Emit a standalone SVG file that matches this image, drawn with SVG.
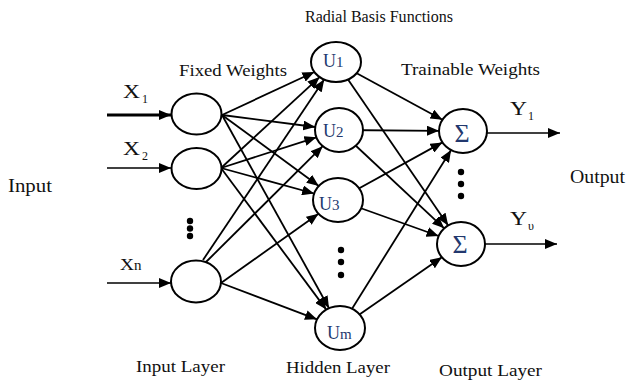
<svg xmlns="http://www.w3.org/2000/svg" width="627" height="383" viewBox="0 0 627 383">
  <style>
    .node { fill: #ffffff; stroke: #000000; stroke-width: 2; }
    .edge { stroke: #000000; stroke-width: 1.8; fill: none; marker-end: url(#arrow); }
    .lbl { font-family: "Liberation Serif", "Times New Roman", serif; fill: #111111; }
    .sym { font-family: "Liberation Serif", "Times New Roman", serif; fill: #22386e; }
    .dot { fill: #000000; }
  </style>
  <defs>
    <marker id="arrow" markerUnits="userSpaceOnUse" markerWidth="12" markerHeight="10" refX="12" refY="5" orient="auto">
      <path d="M0,0 L12,5 L0,10 z" fill="#000000"/>
    </marker>
  </defs>

  <rect width="627" height="383" fill="#ffffff"/>

  <!-- section titles -->
  <g id="titles">
    <text class="lbl" x="305" y="22" font-size="16" textLength="148" lengthAdjust="spacingAndGlyphs">Radial Basis Functions</text>
    <text class="lbl" x="179" y="76" font-size="17" textLength="108" lengthAdjust="spacingAndGlyphs">Fixed Weights</text>
    <text class="lbl" x="401" y="75" font-size="17" textLength="139" lengthAdjust="spacingAndGlyphs">Trainable Weights</text>
    <text class="lbl" x="8" y="192" font-size="18" textLength="44" lengthAdjust="spacingAndGlyphs">Input</text>
    <text class="lbl" x="570" y="183" font-size="18" textLength="55" lengthAdjust="spacingAndGlyphs">Output</text>
    <text class="lbl" x="136" y="372" font-size="17" textLength="89" lengthAdjust="spacingAndGlyphs">Input Layer</text>
    <text class="lbl" x="286" y="373" font-size="17" textLength="104" lengthAdjust="spacingAndGlyphs">Hidden Layer</text>
    <text class="lbl" x="439" y="376" font-size="17" textLength="103" lengthAdjust="spacingAndGlyphs">Output Layer</text>
  </g>

  <!-- all connectors -->
  <g id="connectors">
    <!-- inputs into the input layer -->
    <line x1="107" y1="115" x2="171" y2="115" stroke="#000" stroke-width="2.8" marker-end="url(#arrow)"/>
    <line x1="107" y1="168" x2="171" y2="168" stroke="#000" stroke-width="1.5" marker-end="url(#arrow)"/>
    <line x1="107" y1="283" x2="171" y2="283" stroke="#000" stroke-width="1.5" marker-end="url(#arrow)"/>

    <!-- input layer to hidden layer (fixed weights) -->
    <line class="edge" x1="222" y1="115" x2="314.4" y2="72"/>
    <line class="edge" x1="222" y1="115" x2="315.2" y2="127"/>
    <line class="edge" x1="222" y1="115" x2="318.8" y2="185.9"/>
    <line class="edge" x1="222" y1="115" x2="329" y2="308.2"/>

    <line class="edge" x1="221" y1="168" x2="319.6" y2="77.1"/>
    <line class="edge" x1="221" y1="168" x2="316.4" y2="137.3"/>
    <line class="edge" x1="221" y1="168" x2="314.1" y2="193.5"/>
    <line class="edge" x1="221" y1="168" x2="326.3" y2="309.6"/>

    <line class="edge" x1="203" y1="260" x2="324.2" y2="79.6"/>
    <line class="edge" x1="206" y1="262" x2="322.7" y2="146.2"/>
    <line class="edge" x1="221" y1="283" x2="318.5" y2="213.8"/>
    <line class="edge" x1="221" y1="283" x2="317" y2="319.3"/>

    <!-- hidden layer to output layer (trainable weights) -->
    <line class="edge" x1="336" y1="62" x2="442.4" y2="119.8"/>
    <line class="edge" x1="336" y1="62" x2="448.2" y2="225.4"/>
    <line class="edge" x1="339" y1="130" x2="439" y2="130.8"/>
    <line class="edge" x1="339" y1="130" x2="444.2" y2="228.3"/>
    <line class="edge" x1="338" y1="200" x2="442.4" y2="142.4"/>
    <line class="edge" x1="338" y1="200" x2="438.6" y2="236"/>
    <line class="edge" x1="340" y1="328" x2="451.1" y2="150.1"/>
    <line class="edge" x1="340" y1="328" x2="441.9" y2="257.3"/>

    <!-- outputs -->
    <line x1="487" y1="133" x2="560" y2="133" stroke="#000" stroke-width="1.7" marker-end="url(#arrow)"/>
    <line x1="485" y1="244" x2="557" y2="244" stroke="#000" stroke-width="1.7" marker-end="url(#arrow)"/>
  </g>

  <!-- input layer -->
  <g id="input-1">
    <ellipse class="node" cx="196.5" cy="114" rx="25" ry="20.5"/>
  </g>
  <g id="input-2">
    <ellipse class="node" cx="196.5" cy="168.5" rx="25" ry="20.5"/>
  </g>
  <g id="input-dots">
    <circle class="dot" cx="190" cy="221" r="3.2"/>
    <circle class="dot" cx="190" cy="228.5" r="3.2"/>
    <circle class="dot" cx="190" cy="236" r="3.2"/>
  </g>
  <g id="input-n">
    <ellipse class="node" cx="196" cy="281.5" rx="25" ry="21"/>
  </g>

  <!-- input labels -->
  <g id="input-labels">
    <text class="lbl" x="123" y="98" font-size="18" textLength="17" lengthAdjust="spacingAndGlyphs">X</text>
    <text class="lbl" x="142" y="103" font-size="12">1</text>
    <text class="lbl" x="123" y="155" font-size="18" textLength="17" lengthAdjust="spacingAndGlyphs">X</text>
    <text class="lbl" x="142" y="160" font-size="12">2</text>
    <text class="lbl" x="120" y="270" font-size="17" textLength="14" lengthAdjust="spacingAndGlyphs">X</text>
    <text class="lbl" x="134" y="270" font-size="15">n</text>
  </g>

  <!-- hidden layer -->
  <g id="hidden-1">
    <ellipse class="node" cx="336" cy="62" rx="25" ry="20"/>
    <text class="sym" x="323" y="67" font-size="18">U<tspan font-size="15">1</tspan></text>
  </g>
  <g id="hidden-2">
    <ellipse class="node" cx="339" cy="130" rx="24" ry="22"/>
    <text class="sym" x="323" y="137" font-size="18">U<tspan font-size="15">2</tspan></text>
  </g>
  <g id="hidden-3">
    <ellipse class="node" cx="338" cy="200" rx="25" ry="22"/>
    <text class="sym" x="319" y="210" font-size="18">U<tspan font-size="15">3</tspan></text>
  </g>
  <g id="hidden-dots">
    <circle class="dot" cx="341" cy="250" r="3.2"/>
    <circle class="dot" cx="341" cy="262" r="3.2"/>
    <circle class="dot" cx="341" cy="275" r="3.2"/>
  </g>
  <g id="hidden-m">
    <ellipse class="node" cx="340" cy="328" rx="25" ry="22"/>
    <text class="sym" x="327" y="339" font-size="18">U<tspan font-size="15">m</tspan></text>
  </g>

  <!-- output layer -->
  <g id="output-1">
    <ellipse class="node" cx="463" cy="131" rx="24" ry="22"/>
    <text class="sym" x="462" y="142" font-size="26" text-anchor="middle">Σ</text>
  </g>
  <g id="output-dots">
    <circle class="dot" cx="461" cy="172" r="3.2"/>
    <circle class="dot" cx="461" cy="184" r="3.2"/>
    <circle class="dot" cx="461" cy="196" r="3.2"/>
  </g>
  <g id="output-2">
    <ellipse class="node" cx="461" cy="244" rx="24" ry="22"/>
    <text class="sym" x="460" y="253" font-size="26" text-anchor="middle">Σ</text>
  </g>

  <!-- output labels -->
  <g id="output-labels">
    <text class="lbl" x="510" y="115" font-size="18" textLength="17" lengthAdjust="spacingAndGlyphs">Y</text>
    <text class="lbl" x="528" y="120" font-size="12">1</text>
    <text class="lbl" x="510" y="225" font-size="18" textLength="17" lengthAdjust="spacingAndGlyphs">Y</text>
    <text class="lbl" x="528" y="230" font-size="12">υ</text>
  </g>
</svg>
